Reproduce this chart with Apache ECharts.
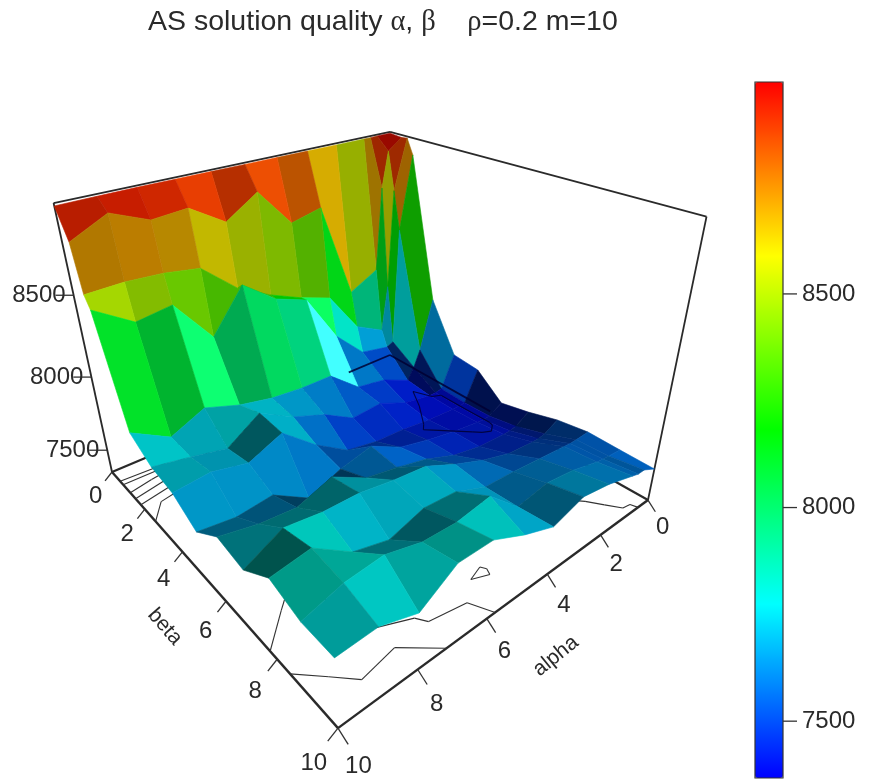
<!DOCTYPE html>
<html><head><meta charset="utf-8">
<style>html,body{margin:0;padding:0;background:#fff}#c{width:870px;height:780px}</style>
<script src="https://cdn.jsdelivr.net/npm/echarts@6/dist/echarts.min.js"></script>
</head><body><div id="c"></div>
<script>
// --- data ---
const alphaValues = [10,9,8,7,6,5,4,3,2,1,0.75,0.5,0];
const betaValues  = [0,0.5,0.75,1,2,3,4,5,6,7,8,9,10];
const z00 = [8985,8988,8990,8990,8990,8990,8990,8990,8990,8990,8990,8992,8992];
const z01 = [8827,8928,8840,8856,8726,8854,8617,8663,8029,8128,8686,8917,8985];
const z02 = [8560,8567,8555,8523,8337,8227,8141,8073,7791,7690,8007,8670,8990];
const z03 = [8495,8354,8386,8113,8376,8220,8145,7816,7616,7577,7600,8417,8894];
const z04 = [7858,7730,7828,7755,7712,7695,7695,7526,7494,7405,7490,7606,7954];
const z05 = [7762,7720,7672,7810,7689,7610,7490,7505,7420,7385,7385,7395,7621];
const z06 = [7730,7749,7699,7792,7610,7470,7430,7420,7395,7385,7385,7390,7600];
const z07 = [7627,7597,7621,7483,7570,7620,7510,7460,7420,7395,7390,7395,7449];
const z08 = [7749,7700,7680,7758,7640,7600,7550,7470,7430,7420,7420,7430,7489];
const z09 = [7710,7826,7796,7792,7758,7735,7640,7560,7500,7480,7480,7490,7542];
const z10 = [7831,7864,7707,7650,7721,7706,7620,7610,7590,7570,7565,7565,7570];
const z11 = [7763,7831,7850,7790,7781,7815,7630,7668,7640,7586,7580,7575,7563];
const z12 = [7757,7765,7687,7828,7826,7727,7649,7715,7680,7621,7606,7606,7558];
const zRows = [z00,z01,z02,z03,z04,z05,z06,z07,z08,z09,z10,z11,z12];
const floorTicks = [0,2,4,6,8,10];
const zTicks = [7500,8000,8500];
const contourLevels = [7400,7600,7800,8000,8200,8400,8600,8800];
const overlayLevels = [7400];
const zLow = 7340, zHigh = 9000;          // box range
const colorMin = 7367, colorMax = 8996;   // colour bar range
const rampColors = ['#0000ff','#00ffff','#00ff00','#ffff00','#ff0000'];

// --- perspective view of the box: (alpha/10, beta/10, z01, 1) -> screen ---
const view = [
  [-301.2, 93.2, -53.7, 390],
  [19.2, 17.9, -241.2, 355],
  [-0.2072, -0.2543, -0.1378, 1]
];
function homog(a,b,z){
  const u=a/10,v=b/10,n=(z-zLow)/(zHigh-zLow);
  return view.map(m=>m[0]*u+m[1]*v+m[2]*n+m[3]);
}
function project(a,b,z){ const r=homog(a,b,z); return [r[0]/r[2], r[1]/r[2]]; }
function scaleAt(a,b){ return 1/homog(a,b,zLow)[2]; }

// --- surface cells, far to near ---
const cells=[];
for(let i=0;i<betaValues.length-1;i++){
  for(let j=alphaValues.length-2;j>=0;j--){
    const m=(zRows[i][j]+zRows[i][j+1]+zRows[i+1][j]+zRows[i+1][j+1])/4;
    cells.push([j,i,m]);
  }
}
// lighting of a facet
const lightDir=[-0.65,0.55,0.52];
function facetShade(j,i){
  const a0=alphaValues[j]/10,a1=alphaValues[j+1]/10,b0=betaValues[i]/10,b1=betaValues[i+1]/10;
  const zn=(r,c)=>(zRows[r][c]-zLow)/(zHigh-zLow)*0.85;
  const d1=[a1-a0,b1-b0,zn(i+1,j+1)-zn(i,j)];
  const d2=[a0-a1,b1-b0,zn(i+1,j)-zn(i,j+1)];
  let n=[d1[1]*d2[2]-d1[2]*d2[1],d1[2]*d2[0]-d1[0]*d2[2],d1[0]*d2[1]-d1[1]*d2[0]];
  if(n[2]<0)n=n.map(x=>-x);
  const len=Math.hypot(n[0],n[1],n[2]);
  const nz=n[2]/len;
  const dot=Math.max(0,(n[0]*lightDir[0]+n[1]*lightDir[1]+n[2]*lightDir[2])/len);
  let diff=0.3+0.65*dot+0.4*Math.pow(dot,8), spec=0.6*Math.pow(dot,20);
  if(nz>0.6){ diff=Math.min(diff,0.78); spec=0; }
  if(nz<0.5){ diff=Math.max(diff,0.62); }
  return {diff:diff, spec:spec};
}
function shadeColor(col,s){
  const c=echarts.color.parse(col);
  const f=x=>Math.min(255,Math.round(x*Math.min(1,s.diff)+255*s.spec));
  return 'rgb('+f(c[0])+','+f(c[1])+','+f(c[2])+')';
}

// --- contour segments on the floor (marching squares) ---
function contourSegments(levels){
  const out=[];
  levels.forEach(L=>{
    for(let i=0;i<betaValues.length-1;i++)for(let j=0;j<alphaValues.length-1;j++){
      const P=[[alphaValues[j],betaValues[i],zRows[i][j]],[alphaValues[j+1],betaValues[i],zRows[i][j+1]],
               [alphaValues[j+1],betaValues[i+1],zRows[i+1][j+1]],[alphaValues[j],betaValues[i+1],zRows[i+1][j]]];
      const pts=[];
      for(let k=0;k<4;k++){
        const A=P[k],B=P[(k+1)%4];
        if((A[2]-L)*(B[2]-L)<0){
          const t=(L-A[2])/(B[2]-A[2]);
          pts.push([A[0]+t*(B[0]-A[0]),A[1]+t*(B[1]-A[1])]);
        }
      }
      for(let k=0;k+1<pts.length;k+=2)out.push([pts[k][0],pts[k][1],zLow,pts[k+1][0],pts[k+1][1],zLow,1.1]);
    }
  });
  return out;
}

// --- box and axis lines: alpha,beta,z -> alpha,beta,z,width ---
const boxLines=[
  [10,0,zLow,0,0,zLow,2.2],[0,0,zLow,0,10,zLow,2.2],
  [10,0,zLow,10,10,zLow,2.4],[10,10,zLow,0,10,zLow,2.4],
  [10,0,zLow,10,0,zHigh,1.8],[10,0,zHigh,0,0,zHigh,1.8],
  [0,0,zHigh,0,10,zHigh,1.8],[0,10,zHigh,0,10,zLow,1.8]
];
const backOverlay=[[1.8,0,zLow,0,0,zLow,1.8],[0,0,zLow,0,4.6,zLow,1.8]];

function lineItem(stroke){
  return function(p,api){
    const A=project(api.value(0),api.value(1),api.value(2));
    const B=project(api.value(3),api.value(4),api.value(5));
    return {type:'line',silent:true,shape:{x1:A[0],y1:A[1],x2:B[0],y2:B[1]},
      style:{stroke:stroke,lineWidth:api.value(6),fill:null}};
  };
}

// --- ticks and labels ---
const FAMILY='"Liberation Sans", Arial, sans-serif';
const FONT='24px '+FAMILY;
const TXT='#2a2a2a';
function tickGroup(){
  const kids=[];
  const tick=(A,B)=>kids.push({type:'line',silent:true,shape:{x1:A[0],y1:A[1],x2:B[0],y2:B[1]},style:{stroke:'#333',lineWidth:1.3}});
  const text=(t,x,y,align,rot,font)=>kids.push({type:'text',silent:true,x:x,y:y,rotation:rot||0,
    style:{text:t,fill:TXT,font:font||FONT,align:align||'center',verticalAlign:'middle'}});
  floorTicks.forEach(t=>{
    let A=project(10,t,zLow), s=scaleAt(10,t);
    tick(A,[A[0]-5.5*s,A[1]+7*s]); text(String(t),A[0]-13*s,A[1]+19*s);
    A=project(t,10,zLow); s=scaleAt(t,10);
    tick(A,[A[0]+5.5*s,A[1]+8.7*s]); text(String(t),A[0]+11*s,A[1]+20.5*s);
  });
  zTicks.forEach(z=>{
    const A=project(10,0,z);
    tick(A,[A[0]-18,A[1]]); text(String(z),A[0]-8,A[1],'right');
  });
  const bp=project(10,5.6,zLow), ap=project(5.2,10,zLow);
  text('beta',bp[0]-52,bp[1]+36,'center',-0.85,'21px '+FAMILY);
  text('alpha',ap[0]+44,ap[1]+56,'center',0.68,'21px '+FAMILY);
  return {type:'group',silent:true,children:kids};
}

const chart=echarts.init(document.getElementById('c'),null,{renderer:'canvas'});
chart.setOption({
  animation:false,
  backgroundColor:'#fff',
  title:{left:148,top:8,padding:0,
    text:'{t|AS solution quality }{g|α}{t|, }{g|β}{t|    }{g|ρ}{t|=0.2 m=10}',
    textStyle:{fontWeight:'normal',rich:{
      t:{fontFamily:FAMILY,fontSize:28.5,fontWeight:'normal',color:TXT},
      g:{fontFamily:'"Liberation Serif", serif',fontSize:28.5,fontWeight:'normal',color:TXT}
    }}},
  grid:{left:755,top:82,width:28,height:696,show:true,borderColor:'#333',borderWidth:1.2,backgroundColor:'transparent',z:6},
  xAxis:{type:'value',show:false,min:0,max:1},
  yAxis:{type:'value',position:'right',min:colorMin,max:colorMax,z:6,
    splitLine:{show:false},
    axisLine:{show:false},
    axisTick:{show:false},
    axisLabel:{show:true,margin:19,color:TXT,fontSize:24,fontFamily:FAMILY,customValues:zTicks,formatter:v=>String(v)}
  },
  visualMap:{type:'continuous',show:true,seriesIndex:2,dimension:2,min:colorMin,max:colorMax,
    left:755,top:82,itemWidth:28,itemHeight:696,padding:0,text:null,showLabel:false,calculable:false,realtime:false,
    inRange:{color:rampColors},z:4,hoverLink:false,
    textStyle:{fontSize:0}},
  series:[
    {type:'custom',coordinateSystem:'none',silent:true,data:boxLines,renderItem:lineItem('#2a2a2a'),z:2},
    {type:'custom',coordinateSystem:'none',silent:true,data:contourSegments(contourLevels),renderItem:lineItem('#333'),z:2},
    {type:'custom',coordinateSystem:'none',silent:true,data:cells,z:3,
      renderItem:function(p,api){
        const j=api.value(0),i=api.value(1);
        const pts=[[i,j],[i,j+1],[i+1,j+1],[i+1,j]].map(q=>project(alphaValues[q[1]],betaValues[q[0]],zRows[q[0]][q[1]]));
        const col=shadeColor(api.visual('color'),facetShade(j,i));
        return {type:'polygon',silent:true,shape:{points:pts},style:{fill:col,stroke:col,lineWidth:0.6}};
      }},
    {type:'custom',coordinateSystem:'none',silent:true,data:backOverlay.concat(contourSegments(overlayLevels)),renderItem:lineItem('rgba(0,0,50,0.85)'),z:4},
    {type:'custom',coordinateSystem:'none',silent:true,data:[[0]],renderItem:tickGroup,z:5},
    {type:'custom',coordinateSystem:'cartesian2d',silent:true,clip:false,z:6,data:zTicks.map(v=>[1,v]),
      encode:{x:0,y:1},
      renderItem:function(p,api){
        const A=api.coord([api.value(0),api.value(1)]);
        return {type:'line',silent:true,shape:{x1:A[0],y1:A[1],x2:A[0]+14,y2:A[1]},style:{stroke:'#333',lineWidth:1.3}};
      }}
  ]
});
</script></body></html>
